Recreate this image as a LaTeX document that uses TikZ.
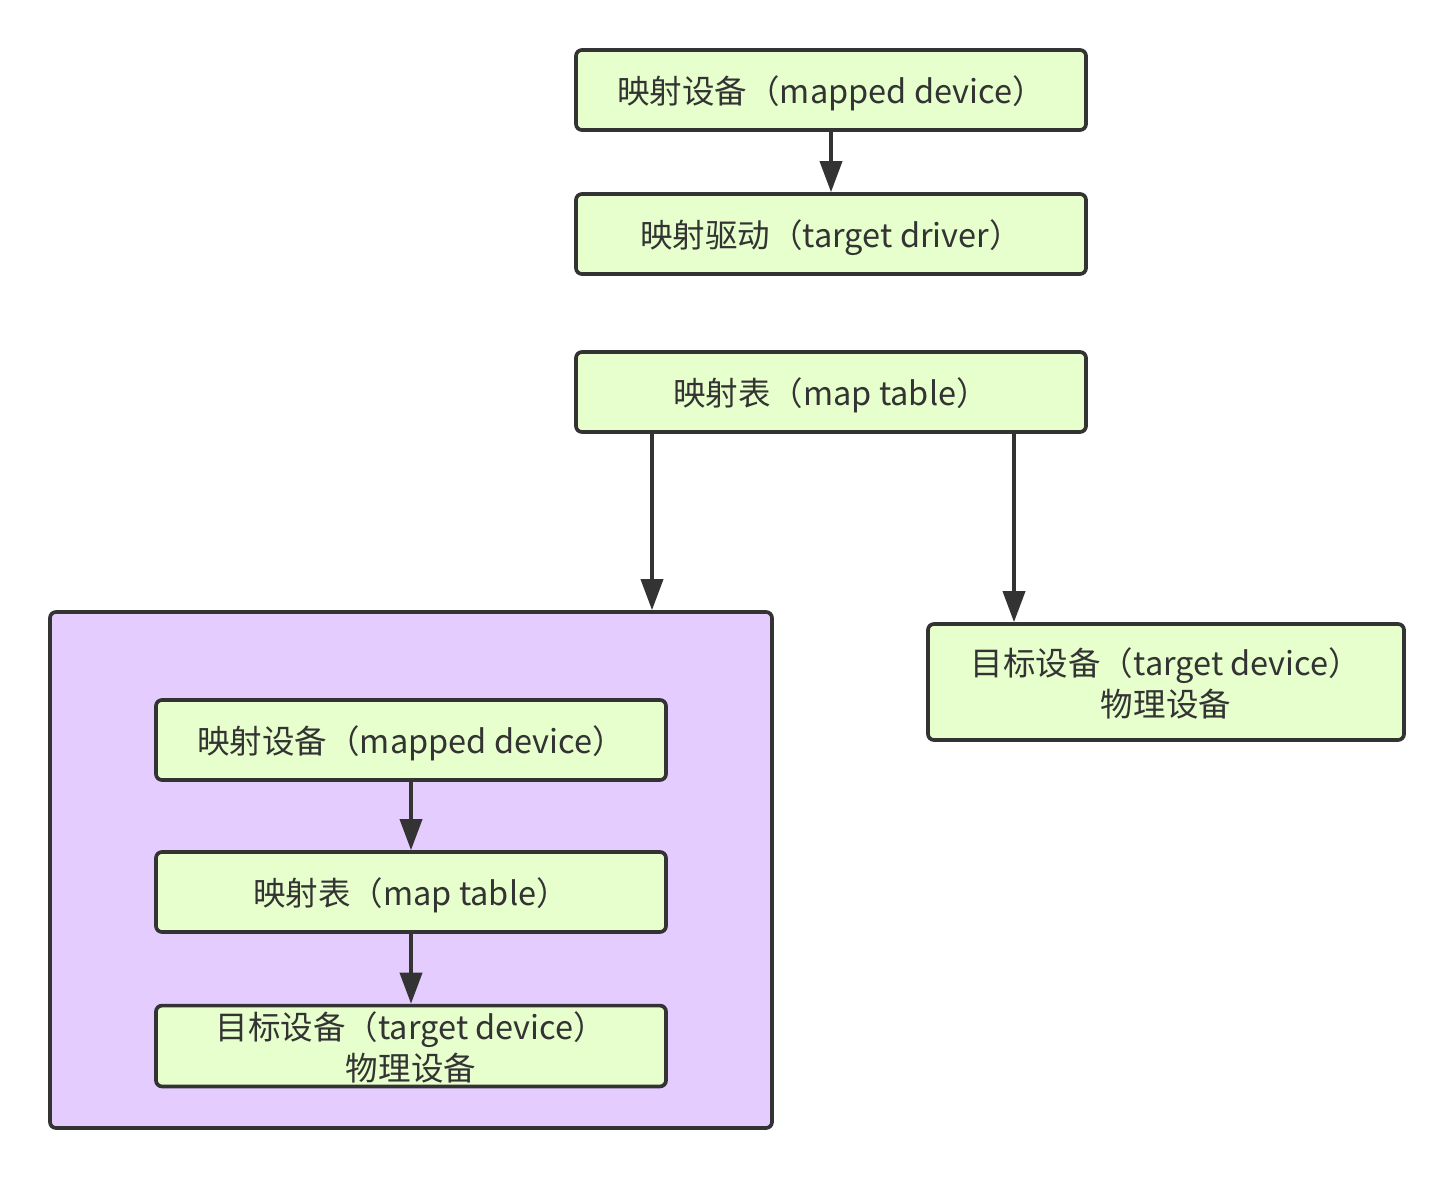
\documentclass[tikz,border=0pt]{standalone}
\usepackage{fontspec}
\newfontfamily\cjk{Noto Sans CJK SC}
\usepackage{tikz}
\usetikzlibrary{arrows.meta, calc, positioning}
\definecolor{boxfill}{HTML}{E6FFCC}
\definecolor{grpfill}{HTML}{E5CCFF}
\definecolor{ink}{HTML}{333333}

\begin{document}
\begin{tikzpicture}[-{Triangle[length=0.62cm,width=0.44cm]}, line width=2.1pt, draw=ink,
    blk/.style={draw=ink, fill=boxfill, rounded corners=0.12cm, text=ink,
      minimum width=10.2cm, minimum height=1.6cm, align=center, text depth=0pt,
      font=\cjk\fontsize{18.5}{23.5}\selectfont}]
  \useasboundingbox (0,0) rectangle (29.08,-23.56);
  \node[draw=ink, fill=grpfill, rounded corners=0.12cm, minimum width=14.44cm, minimum height=10.32cm] (grp) at (8.22,-17.4) {};

  \node[blk] (map)   at (16.62,-1.8)  {映射设备（mapped device）};
  \node[blk] (drv)   at (16.62,-4.68) {映射驱动（target driver）};
  \node[blk] (tbl)   at (16.62,-7.84) {映射表（map table）};
  \node[blk, minimum width=9.52cm, minimum height=2.32cm] (tgt) at (23.32,-13.64) {目标设备（target device）\\物理设备};

  \node[blk] (imap) at (8.22,-14.8)  {映射设备（mapped device）};
  \node[blk] (itbl) at (8.22,-17.84) {映射表（map table）};
  \node[blk] (itgt) at (8.22,-20.92) {目标设备（target device）\\物理设备};

  % top chain
  \draw[ink] (map) -- (drv);
  % map table to group and target
  \draw[ink] (tbl.south -| 13.04,0) -- (grp.north -| 13.04,0);
  \draw[ink] (tbl.south -| 20.28,0) -- (tgt.north -| 20.28,0);
  % inner chain
  \draw[ink] (imap) -- (itbl);
  \draw[ink] (itbl) -- (itgt);
\end{tikzpicture}
\end{document}
